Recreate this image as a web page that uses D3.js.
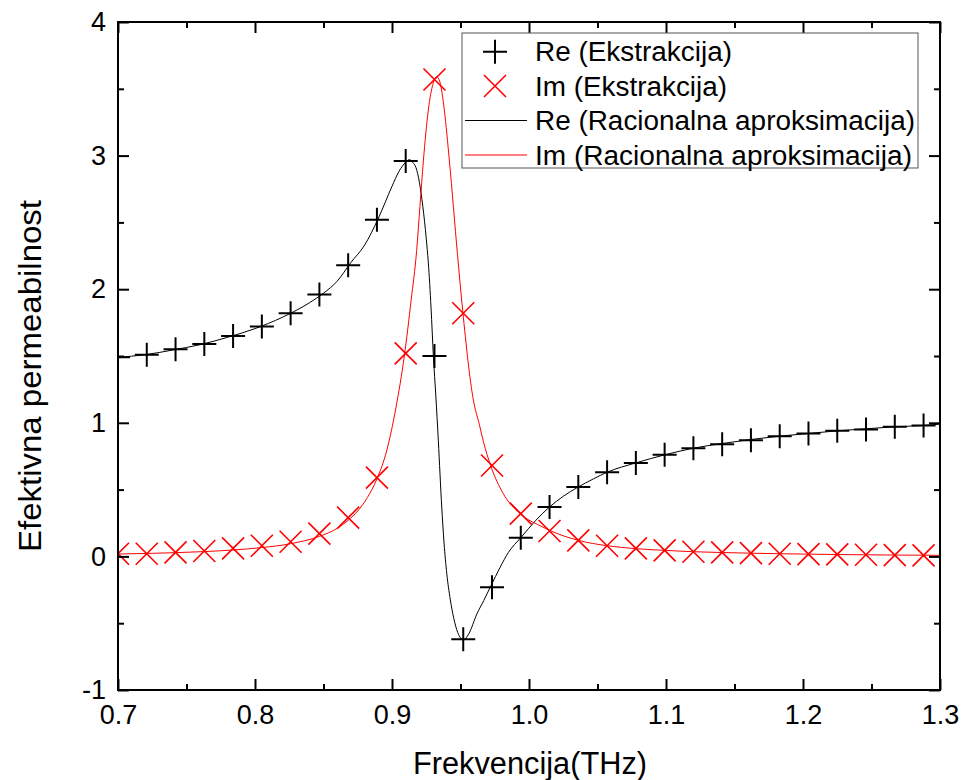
<!DOCTYPE html>
<html><head><meta charset="utf-8">
<script src="https://cdn.jsdelivr.net/npm/d3@7"></script>
<style>
body{margin:0;background:#fff}
svg{display:block}
text{font-family:Arial,"Liberation Sans",sans-serif;fill:#000}
</style>
</head><body>
<svg id="chart" width="962" height="780"></svg>
<script>
// ---- data ----
const markerFreq = [0.700,0.721,0.742,0.763,0.784,0.805,0.826,0.847,0.868,0.889,0.910,0.931,0.952,0.973,0.994,1.015,1.036,1.057,1.078,1.099,1.120,1.141,1.162,1.183,1.204,1.225,1.246,1.267,1.288];
const reExtract = [1.49,1.51,1.55,1.59,1.65,1.72,1.82,1.96,2.18,2.52,2.96,1.50,-0.62,-0.23,0.14,0.37,0.52,0.63,0.70,0.76,0.81,0.84,0.87,0.90,0.92,0.94,0.95,0.97,0.98];
const imExtract = [0.02,0.02,0.03,0.04,0.06,0.08,0.11,0.17,0.29,0.59,1.52,3.57,1.82,0.68,0.32,0.19,0.12,0.08,0.06,0.045,0.035,0.03,0.025,0.02,0.017,0.015,0.012,0.01,0.008];

const reFitFreq = [0.700,0.720,0.740,0.760,0.780,0.800,0.820,0.840,0.850,0.860,0.870,0.880,0.890,0.900,0.905,0.910,0.9127,0.915,0.9175,0.920,0.9225,0.925,0.9265,0.9285,0.9302,0.932,0.9338,0.9363,0.938,0.940,0.9425,0.945,0.948,0.952,0.956,0.962,0.967,0.972,0.979,0.985,0.994,1.005,1.015,1.025,1.036,1.047,1.057,1.078,1.099,1.120,1.141,1.162,1.183,1.204,1.225,1.246,1.267,1.288,1.300];
const reFit = [1.49,1.51,1.545,1.585,1.64,1.705,1.79,1.90,1.97,2.06,2.20,2.33,2.53,2.77,2.88,2.95,2.97,2.95,2.91,2.80,2.62,2.38,2.20,1.86,1.50,1.20,0.87,0.37,0.10,-0.13,-0.32,-0.46,-0.57,-0.625,-0.58,-0.43,-0.33,-0.225,-0.08,0.03,0.14,0.27,0.37,0.45,0.52,0.58,0.63,0.70,0.76,0.81,0.845,0.875,0.90,0.92,0.94,0.955,0.97,0.98,0.99];

const imFitFreq = [0.700,0.721,0.742,0.763,0.784,0.805,0.826,0.847,0.860,0.868,0.875,0.882,0.889,0.8961,0.903,0.909,0.914,0.918,0.9204,0.9229,0.9265,0.930,0.9326,0.935,0.9382,0.9419,0.9478,0.9516,0.9594,0.9637,0.9667,0.972,0.9812,0.9934,1.008,1.015,1.036,1.057,1.078,1.099,1.120,1.141,1.162,1.183,1.204,1.225,1.246,1.267,1.288,1.300];
const imFit = [0.018,0.022,0.028,0.036,0.048,0.066,0.095,0.15,0.21,0.27,0.34,0.44,0.58,0.79,1.12,1.50,1.92,2.29,2.62,2.96,3.34,3.54,3.59,3.55,3.34,2.96,2.26,1.84,1.17,0.99,0.86,0.68,0.47,0.32,0.23,0.195,0.12,0.08,0.058,0.045,0.035,0.029,0.024,0.02,0.017,0.014,0.012,0.01,0.009,0.008];

const xMajorTicks = [0.7,0.8,0.9,1.0,1.1,1.2,1.3];
const xTickLabels = ["0.7","0.8","0.9","1.0","1.1","1.2","1.3"];
const xMinorTicks = [0.75,0.85,0.95,1.05,1.15,1.25];
const yMajorTicks = [-1,0,1,2,3,4];
const yTickLabels = ["-1","0","1","2","3","4"];
const yMinorTicks = [-0.5,0.5,1.5,2.5,3.5];
const legendLabels = ["Re (Ekstrakcija)","Im (Ekstrakcija)","Re (Racionalna aproksimacija)","Im (Racionalna aproksimacija)"];
const xTitle = "Frekvencija(THz)";
const yTitle = "Efektivna permeabilnost";

// ---- drawing ----
const svg = d3.select("#chart");
const L = 118, R = 940, T = 22, B = 690;
const x = d3.scaleLinear().domain([0.7,1.3]).range([L,R]);
const y = d3.scaleLinear().domain([-1,4]).range([B,T]);

svg.append("defs").append("clipPath").attr("id","plotclip")
  .append("rect").attr("x",L).attr("y",T).attr("width",R-L).attr("height",B-T);

const plot = svg.append("g").attr("clip-path","url(#plotclip)");

const line = d3.line().x(d=>x(d[0])).y(d=>y(d[1])).curve(d3.curveMonotoneX);
plot.append("path").datum(reFitFreq.map((f,i)=>[f,reFit[i]]))
  .attr("d",line).attr("fill","none").attr("stroke","#000").attr("stroke-width",1);
plot.append("path").datum(imFitFreq.map((f,i)=>[f,imFit[i]]))
  .attr("d",line).attr("fill","none").attr("stroke","#ff0000").attr("stroke-width",1);

const plusPath = "M-12,0H12M0,-12V12";
const crossPath = "M-11,-11L11,11M-11,11L11,-11";
plot.selectAll(".re").data(markerFreq.map((f,i)=>[f,reExtract[i]])).enter()
  .append("path").attr("class","re").attr("d",plusPath)
  .attr("transform",d=>`translate(${x(d[0])},${y(d[1])})`)
  .attr("fill","none").attr("stroke","#000").attr("stroke-width",2);
plot.selectAll(".im").data(markerFreq.map((f,i)=>[f,imExtract[i]])).enter()
  .append("path").attr("class","im").attr("d",crossPath)
  .attr("transform",d=>`translate(${x(d[0])},${y(d[1])})`)
  .attr("fill","none").attr("stroke","#ff0000").attr("stroke-width",1.6);

// axes
function styleAxis(g){
  g.select(".domain").remove();
  g.selectAll(".tick line").attr("stroke","#000").attr("stroke-width",2);
  g.selectAll("text").attr("font-size",27).attr("font-family","Arial, 'Liberation Sans', sans-serif");
}
const MAJ = 11, MIN = 6;
svg.append("g").attr("transform",`translate(0,${B})`)
  .call(d3.axisBottom(x).tickValues(xMajorTicks).tickSize(-MAJ).tickPadding(15).tickFormat((d,i)=>xTickLabels[i]))
  .call(styleAxis);
svg.append("g").attr("transform",`translate(0,${B})`)
  .call(d3.axisBottom(x).tickValues(xMinorTicks).tickSize(-MIN).tickFormat(""))
  .call(styleAxis);
svg.append("g").attr("transform",`translate(0,${T})`)
  .call(d3.axisTop(x).tickValues(xMajorTicks).tickSize(-MAJ).tickFormat(""))
  .call(styleAxis);
svg.append("g").attr("transform",`translate(0,${T})`)
  .call(d3.axisTop(x).tickValues(xMinorTicks).tickSize(-MIN).tickFormat(""))
  .call(styleAxis);
svg.append("g").attr("transform",`translate(${L},0)`)
  .call(d3.axisLeft(y).tickValues(yMajorTicks).tickSize(-MAJ).tickPadding(12).tickFormat((d,i)=>yTickLabels[i]))
  .call(styleAxis);
svg.append("g").attr("transform",`translate(${L},0)`)
  .call(d3.axisLeft(y).tickValues(yMinorTicks).tickSize(-MIN).tickFormat(""))
  .call(styleAxis);
svg.append("g").attr("transform",`translate(${R},0)`)
  .call(d3.axisRight(y).tickValues(yMajorTicks).tickSize(-MAJ).tickFormat(""))
  .call(styleAxis);
svg.append("g").attr("transform",`translate(${R},0)`)
  .call(d3.axisRight(y).tickValues(yMinorTicks).tickSize(-MIN).tickFormat(""))
  .call(styleAxis);

svg.append("rect").attr("x",L).attr("y",T).attr("width",R-L).attr("height",B-T)
  .attr("fill","none").attr("stroke","#000").attr("stroke-width",2);

// titles
svg.append("text").attr("x",530).attr("y",774).attr("text-anchor","middle")
  .attr("font-size",31).attr("textLength",234).attr("lengthAdjust","spacingAndGlyphs").text(xTitle);
svg.append("text").attr("transform","translate(41,376) rotate(-90)").attr("text-anchor","middle")
  .attr("font-size",32).attr("textLength",352).attr("lengthAdjust","spacingAndGlyphs").text(yTitle);

// legend
const lg = svg.append("g");
lg.append("rect").attr("x",462).attr("y",33).attr("width",456).attr("height",135)
  .attr("fill","#fff").attr("stroke","#555").attr("stroke-width",1);
const rowY = [51.7,86,120.5,155];
const textW = [197,192,380,377];
lg.append("path").attr("d",plusPath).attr("transform",`translate(495,${rowY[0]})`)
  .attr("stroke","#000").attr("stroke-width",2).attr("fill","none");
lg.append("path").attr("d",crossPath).attr("transform",`translate(495,${rowY[1]})`)
  .attr("stroke","#ff0000").attr("stroke-width",1.6).attr("fill","none");
lg.append("line").attr("x1",465).attr("x2",527).attr("y1",rowY[2]).attr("y2",rowY[2])
  .attr("stroke","#000").attr("stroke-width",1);
lg.append("line").attr("x1",465).attr("x2",527).attr("y1",rowY[3]).attr("y2",rowY[3])
  .attr("stroke","#ff0000").attr("stroke-width",1);
legendLabels.forEach((t,i)=>{
  lg.append("text").attr("x",535).attr("y",rowY[i]+9.5).attr("font-size",27)
    .attr("textLength",textW[i]).attr("lengthAdjust","spacingAndGlyphs").text(t);
});
</script>
</body></html>
